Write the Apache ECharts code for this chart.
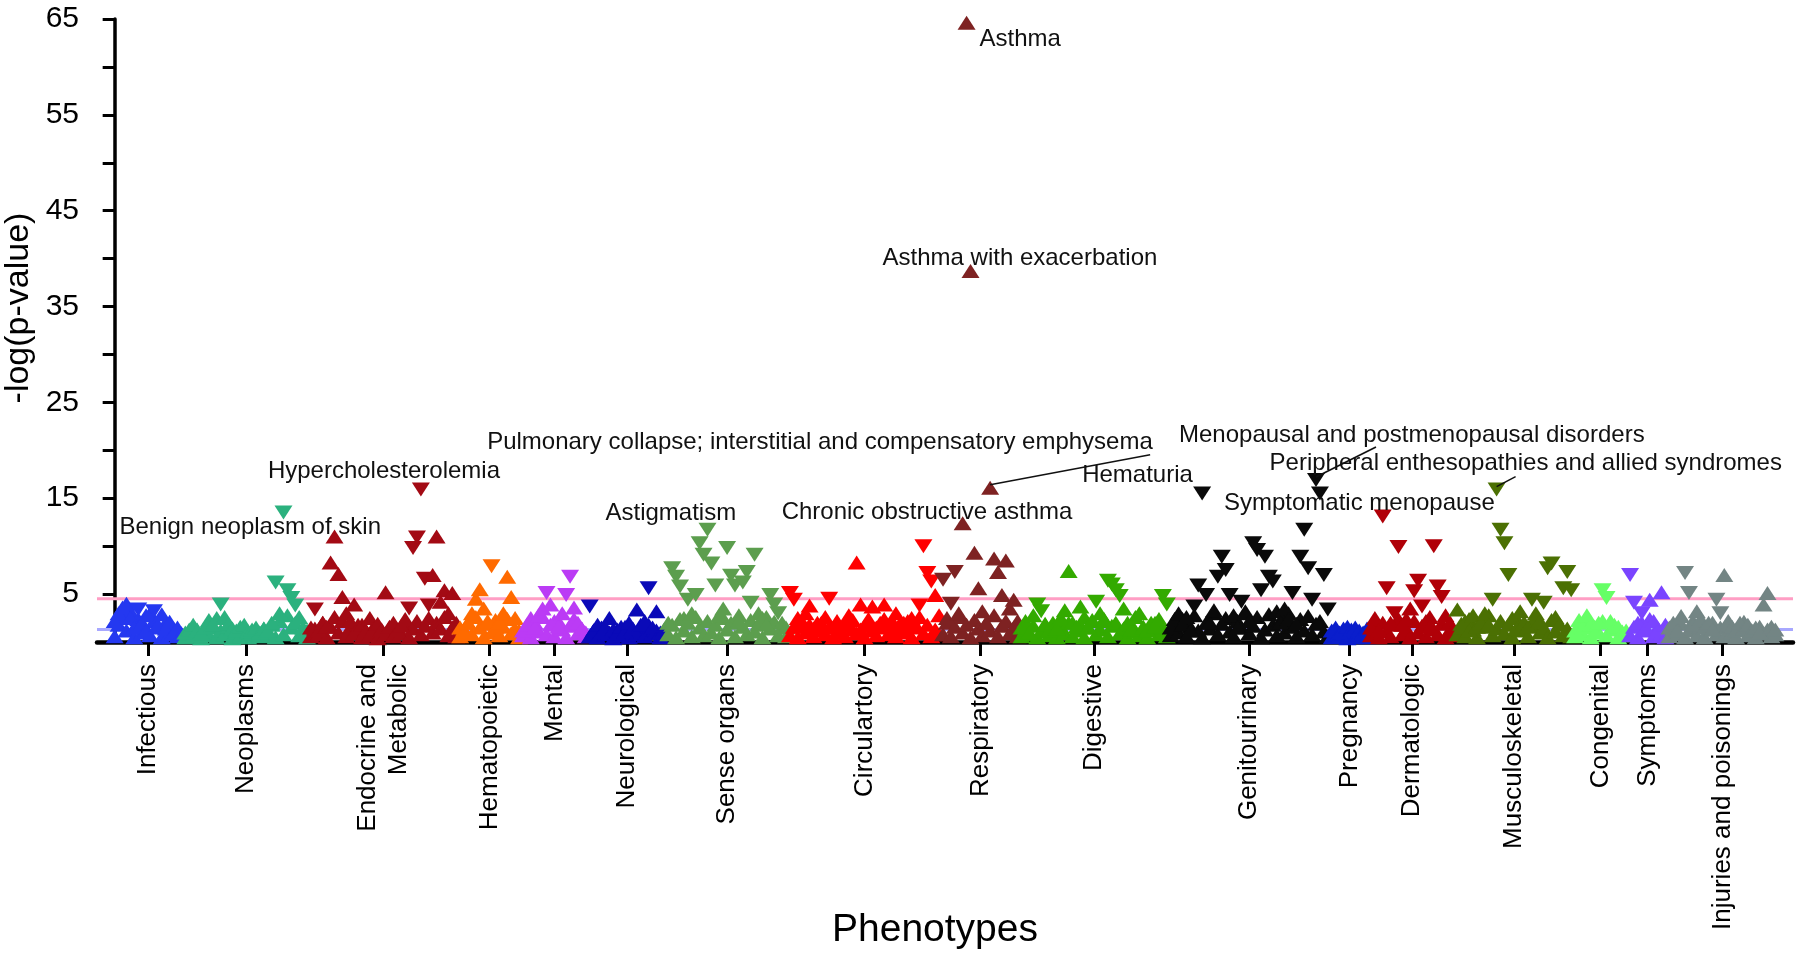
<!DOCTYPE html>
<html>
<head>
<meta charset="utf-8">
<title>PheWAS</title>
<script src="https://cdn.jsdelivr.net/npm/echarts@6/dist/echarts.min.js"></script>
<style>
  html, body { margin: 0; padding: 0; background: #fff; }
  #chart { width: 1800px; height: 956px; }
</style>
</head>
<body>
<div id="chart"></div>
<script>
// -log10(p) per phenotype, in phecode order inside each category.
// sign = direction of effect: positive is drawn as an up triangle, negative as a down triangle
const categories = ['Infectious', 'Neoplasms', 'Endocrine and\nMetabolic', 'Hematopoietic', 'Mental',
  'Neurological', 'Sense organs', 'Circulartory', 'Respiratory', 'Digestive', 'Genitourinary',
  'Pregnancy', 'Dermatologic', 'Musculoskeletal', 'Congenital', 'Symptoms', 'Injuries and poisonings'];

const infectious = [2.2, 3.0, 3.6, 4.0, 2.5, 1.5, -3.4, 2.0, 1.2, 3.0, -3.2, 1.8, 2.9, 1.4, 2.1, 1.0, 1.5, 0.8];
const neoplasms = [1.0, 1.3, 1.8, 1.2, 0.9, 1.5, 2.3, 1.8, 2.5, -3.9, 2.6, 1.9, 1.4, 1.2, 1.6, 1.8, 1.1, 1.3, 1.5, 1.0,
  1.4, 1.2, 2.0, -6.2, 3.0, -13.5, -5.4, -4.6, -3.8, 2.6, 1.5, 1.2];
const endocrine = [1.5, -3.4, 1.2, 2.0, 1.6, 8.3, 11.0, 7.1, 4.7, 3.0, 2.2, 3.9, 1.5, 1.8, 1.2, 2.5, 1.4, 1.9, 1.3, 5.2,
  1.6, 2.0, 1.2, 1.7, 2.4, -3.5, -9.8, -10.9, -15.9, -6.6, -3.8, 7.0, 11.0, 4.2, 5.4, 3.0, 5.1, 2.0];
const hematopoietic = [1.5, 1.0, 2.0, 3.0, 4.5, 5.5, 3.5, 2.2, -7.9, 1.5, 2.0, 3.0, 6.8, 4.7, 2.5, 1.2];
const mental = [1.2, 1.8, 2.5, 1.5, 2.8, 3.5, -5.1, 3.9, 2.2, 1.6, 3.0, -4.9, -6.8, 3.6, 2.0, 1.4, 1.0];
const neurological = [-3.7, 1.2, 1.8, 1.0, 1.5, 2.5, 1.3, 0.9, 1.6, 1.1, 2.0, 1.4, 3.4, 1.8, 2.2, -5.6, 1.5, 3.2, 1.0, 1.3];
const senseOrgans = [2.0, -7.7, -6.8, -5.8, 2.5, -4.4, 3.0, -4.9, -10.3, -9.1, -11.7, -8.2, -5.9, 2.8, 3.5, -9.8,
  -6.9, -5.9, 2.2, -6.2, -7.3, -4.1, -9.1, 3.0, 2.5, 1.8, -4.9, -3.9, -3.0, 2.0, 1.5];
const circulatory = [-5.1, -4.4, 2.5, 1.6, 3.0, 3.8, 1.4, 2.0, 1.2, 2.6, -4.5, 1.5, 2.2, 1.0, 1.8, 2.8, 1.3, 8.3, 3.9, 1.7,
  2.4, 3.7, 1.5, 2.0, 3.9, 1.6, 2.2, 3.0, 1.4, 2.0, 1.1, 2.5, 1.8, -3.8, -10.0, -7.2, -6.3, 4.9, 2.8];
const respiratory = [-6.5, 2.5, -4.0, -7.3, 3.0, 12.4, 64.6, 38.7, 9.3, 5.6, 3.2, 2.0, 16.1, 8.7, 7.3, 4.9, 8.5, 3.5, 4.4, 2.2];
const digestive = [1.5, 2.2, 1.0, 2.8, -3.9, -3.2, 1.8, 1.2, 2.0, 1.4, 2.5, 3.3, 7.4, 2.0, 1.6, 3.7, 2.6, 1.5, 2.3, -4.2,
  3.0, 2.2, -6.4, -6.0, -5.4, -4.8, 3.5, 2.0, 1.3, 2.6, 3.0, 1.5, 1.2, 2.0, 1.6, 2.4, -4.8, -3.9];
const genitourinary = [1.5, 2.4, 3.0, 1.8, 2.6, 1.2, -3.7, -5.9, -15.5, -4.9, 2.0, 3.3, -6.8, -8.9, -7.5, -4.9, 2.8, 1.5,
  -4.2, 3.0, 2.2, -10.3, -9.6, -5.4, -8.9, -6.8, -6.3, 3.2, 2.0, 3.5, 2.4, -5.1, 1.9, -8.9, -11.7, -7.7, -4.4, -16.9,
  -15.5, -7.0, -3.4];
const pregnancy = [1.2, 1.5, 1.0, 1.4, 1.6, 1.3, 1.5, 1.2, 1.0, 1.4];
const dermatologic = [1.5, 2.5, 1.2, -13.1, -5.6, 2.0, -3.0, -9.9, 1.8, 2.4, 3.5, -5.3, -6.4, -3.7, 2.2, 1.6, -10.0,
  -5.8, -4.7, 2.8, 2.0, 1.4];
const musculoskeletal = [3.4, 1.5, 2.2, 1.2, 2.8, 1.6, 2.0, 3.0, 1.8, -4.4, -15.9, -11.7, -10.3, -7.0, 2.5, 1.4, 3.2,
  2.0, 1.6, -4.4, 3.0, 2.2, -4.1, -7.7, -8.2, 2.6, 1.8, -5.6, -7.3, -5.4];
const congenital = [1.2, 2.3, 1.5, 2.8, 1.8, 1.0, 2.0, -5.4, -4.6, 2.2, 1.4, 1.6, 1.0, 1.2];
const symptoms = [-7.0, -4.1, 2.0, -3.0, 1.5, 4.4, 2.2, 1.2, 5.2, 1.8];
const injuries = [1.5, 2.0, 1.2, 2.7, -7.2, -5.1, 1.8, 3.2, 2.4, 1.5, 2.0, 1.3, -4.4, -3.0, 7.0, 2.2, 1.6, 1.2, 2.0, 1.4,
  1.8, 1.2, 1.5, 1.0, 3.9, 5.1, 1.6, 1.3];

// non-significant phenotypes hidden in the dense band along the bottom
const infectiousLow = [0.6, 1.8, 2.6, 1.2, 3.2, 0.5, 2.4, 1.0, 2.8, 0.7, 2.2, 1.5, 0.5, 2.0, 0.8, 1.4, 0.6, 0.9];
const neoplasmsLow = [0.5, 0.9, 0.6, 1.3, 0.4, 1.1, 0.7, 1.5, 0.5, 1.2, 0.8, 1.6, 0.4, 1.0, 0.6, 1.3, 0.5, 0.9, 1.2, 0.6,
  1.4, 0.7, 1.8, 0.5, 2.2, 0.8, 2.8, 1.5, 2.0, 0.7, 1.1, 0.5];
const endocrineLow = [0.6, 1.4, 0.8, 2.0, 0.5, 1.6, 2.6, 1.0, 2.2, 0.6, 1.5, 0.9, 1.8, 0.5, 1.2, 0.7, 1.6, 0.4, 1.1, 0.8,
  1.5, 0.6, 1.3, 0.9, 1.9, 0.5, 1.4, 2.2, 0.8, 1.7, 2.5, 1.0, 2.0, 1.4, 2.6, 0.7, 1.5, 0.6];
const hematopoieticLow = [0.6, 1.3, 2.0, 0.8, 2.6, 1.5, 0.5, 1.9, 1.0, 2.3, 0.7, 1.6, 2.4, 0.9, 1.4, 0.5];
const mentalLow = [0.7, 1.5, 0.5, 2.0, 1.1, 2.6, 0.8, 1.8, 0.6, 2.2, 1.3, 0.5, 1.7, 2.4, 0.9, 1.4, 0.6];
const neurologicalLow = [0.6, 1.2, 0.5, 1.5, 0.8, 1.0, 0.4, 1.3, 0.7, 1.6, 0.5, 1.1, 0.8, 1.4, 0.6, 1.8, 0.9, 1.2, 0.5, 0.8];
const senseOrgansLow = [0.8, 1.8, 0.5, 2.4, 1.2, 2.0, 0.6, 2.6, 1.5, 0.7, 2.2, 1.0, 1.8, 0.5, 2.5, 1.3, 2.0, 0.6, 2.8,
  1.6, 0.8, 2.3, 1.1, 1.9, 0.5, 2.6, 1.4, 2.1, 0.7, 1.5, 0.6];
const circulatoryLow = [0.7, 1.6, 0.5, 2.2, 1.0, 1.8, 0.6, 1.4, 2.0, 0.8, 1.5, 0.5, 1.9, 1.1, 0.6, 1.7, 2.3, 0.9, 1.3,
  0.5, 2.0, 1.2, 0.7, 1.6, 2.4, 0.8, 1.4, 0.6, 1.9, 1.0, 2.2, 0.5, 1.5, 2.6, 0.9, 1.8, 0.6, 1.3, 0.8];
const respiratoryLow = [0.8, 2.0, 0.6, 1.6, 2.6, 1.0, 1.8, 0.5, 2.3, 1.4, 0.7, 2.0, 1.2, 2.8, 0.6, 1.7, 2.2, 0.9, 1.5, 0.6];
const digestiveLow = [0.6, 1.3, 0.8, 1.7, 0.5, 1.1, 1.9, 0.7, 1.4, 0.5, 1.6, 0.9, 2.0, 0.6, 1.2, 1.8, 0.5, 1.5, 2.2,
  0.8, 1.3, 2.4, 0.6, 1.7, 2.0, 0.9, 1.4, 0.5, 1.8, 1.1, 0.7, 1.6, 0.5, 1.3, 2.0, 0.8, 1.5, 0.6];
const genitourinaryLow = [0.7, 1.8, 1.0, 2.4, 0.6, 1.6, 2.8, 1.2, 0.5, 2.0, 1.4, 3.0, 0.8, 1.9, 2.5, 1.1, 0.6, 2.2, 1.5,
  3.2, 0.9, 1.7, 2.6, 0.5, 1.3, 2.9, 1.8, 0.7, 2.3, 1.0, 3.0, 1.6, 0.6, 2.4, 1.2, 2.7, 0.8, 1.9, 2.2, 1.1, 0.6];
const pregnancyLow = [0.5, 0.8, 0.6, 0.9, 0.4, 0.7, 0.5, 0.8, 0.6, 0.5];
const dermatologicLow = [0.7, 1.5, 0.5, 2.0, 1.1, 0.6, 1.8, 2.4, 0.8, 1.4, 0.5, 2.2, 1.0, 1.7, 0.6, 2.6, 1.3, 0.8, 1.9,
  0.5, 1.2, 0.7];
const musculoskeletalLow = [0.8, 1.9, 0.6, 2.4, 1.3, 0.5, 2.1, 1.6, 2.8, 0.7, 1.4, 2.2, 0.9, 1.8, 0.5, 2.5, 1.2, 2.0,
  0.6, 1.7, 2.6, 1.0, 1.5, 0.5, 2.3, 1.1, 1.9, 0.7, 1.4, 0.6];
const congenitalLow = [0.6, 1.4, 0.8, 1.9, 0.5, 1.6, 1.0, 2.2, 0.7, 1.3, 1.8, 0.5, 1.1, 0.7];
const symptomsLow = [0.7, 1.6, 0.5, 2.0, 1.2, 2.4, 0.6, 1.5, 0.9, 0.5];
const injuriesLow = [0.6, 1.4, 0.8, 1.9, 0.5, 1.2, 2.2, 0.7, 1.6, 0.5, 1.3, 2.0, 0.8, 1.5, 0.6, 1.8, 1.0, 0.5, 1.4, 2.1,
  0.7, 1.2, 0.5, 1.6, 0.9, 1.3, 0.6, 0.8];

const categoryValues = [infectious, neoplasms, endocrine, hematopoietic, mental, neurological, senseOrgans,
  circulatory, respiratory, digestive, genitourinary, pregnancy, dermatologic, musculoskeletal, congenital,
  symptoms, injuries];
const categoryLowValues = [infectiousLow, neoplasmsLow, endocrineLow, hematopoieticLow, mentalLow, neurologicalLow,
  senseOrgansLow, circulatoryLow, respiratoryLow, digestiveLow, genitourinaryLow, pregnancyLow, dermatologicLow,
  musculoskeletalLow, congenitalLow, symptomsLow, injuriesLow];

const nominalLine = 1.3;     // p = 0.05
const bonferroniLine = 4.5;  // corrected threshold

// labelled phenotypes: text, category, index inside that category
const annotationTexts = ['Asthma', 'Asthma with exacerbation', 'Chronic obstructive asthma',
  'Pulmonary collapse; interstitial and compensatory emphysema', 'Hypercholesterolemia', 'Benign neoplasm of skin',
  'Astigmatism', 'Hematuria', 'Menopausal and postmenopausal disorders', 'Symptomatic menopause',
  'Peripheral enthesopathies and allied syndromes'];
const annotationCategory = [8, 8, 8, 8, 2, 1, 6, 10, 10, 10, 13];
const annotationIndex = [6, 7, 5, 12, 28, 25, 10, 8, 37, 38, 10];

// ---- styling ----
const colors = ['#2438f0', '#2bb17e', '#a30a14', '#ff6a00', '#bb3bf5', '#0a0ab8', '#5c9e4e', '#ff0000', '#7e2222',
  '#33aa00', '#0a0a0a', '#0a1ecc', '#b00008', '#4b7003', '#66ff66', '#7a44ff', '#738584'];
const UP = 'path://M0,12L7,0L14,12Z';
const DOWN = 'path://M0,0L14,0L7,12Z';
const FONT = '"Liberation Sans", Arial, Helvetica, sans-serif';
// text left/middle offset from the point, and optional leader line end
const labelOffsets = [[13, 17], [-88, -13], [-181, -11], [-503, -45], [-153, -18], [-164, 15], [-102, -16],
  [-120, -18], [-137, -45], [-96, 10], [-227, -26]];
const leaderEnds = [null, null, null, [160, -33], null, null, null, null, [60, -33], null, [19, -13]];

const starts = [];
const tickValues = [];
let pos = 0;
categoryValues.forEach(arr => {
  starts.push(pos);
  tickValues.push(pos + (arr.length - 1) / 2);
  pos += arr.length;
});
const total = pos;
const xMin = -4.5;
const xMax = total - 1 + 4.5;

// threshold lines, behind the points
const series = [
  {
    type: 'line', z: 1, silent: true, symbol: 'none', animation: false,
    data: [[xMin, bonferroniLine], [xMax, bonferroniLine]],
    lineStyle: { color: '#ff9ec4', width: 3 }
  },
  {
    type: 'line', z: 1, silent: true, symbol: 'none', animation: false,
    data: [[xMin, nominalLine], [xMax, nominalLine]],
    lineStyle: { color: '#a8a8ff', width: 3 }
  }
];

categoryValues.forEach((arr, c) => {
  const low = categoryLowValues[c];
  const data = [];
  low.forEach((v, j) => {
    const x = starts[c] + (j + 0.5) * arr.length / low.length - 0.5;
    data.push({ value: [x, Math.abs(v)], symbol: v < 0 ? DOWN : UP });
  });
  arr.forEach((v, i) => {
    data.push({ value: [starts[c] + i, Math.abs(v)], symbol: v < 0 ? DOWN : UP });
  });
  series.push({
    type: 'scatter',
    name: categories[c],
    data: data,
    symbolSize: [18, 14],
    itemStyle: { color: colors[c], opacity: 1 },
    z: 2,
    animation: false
  });
});

const chart = echarts.init(document.getElementById('chart'));
const option = {
  backgroundColor: '#fff',
  animation: false,
  grid: { left: 97, right: 7, top: 19, bottom: 314 },
  xAxis: {
    type: 'value',
    min: xMin,
    max: xMax,
    splitLine: { show: false },
    axisLine: { show: true, onZero: false, lineStyle: { color: '#000', width: 4.5 } },
    axisTick: { show: true, customValues: tickValues, length: 14, lineStyle: { color: '#000', width: 3 } },
    axisLabel: {
      show: true,
      customValues: tickValues,
      rotate: 90,
      margin: 22,
      fontSize: 26,
      lineHeight: 31,
      color: '#000',
      fontFamily: FONT,
      formatter: function (v) {
        const i = tickValues.findIndex(t => Math.abs(t - v) < 1e-6);
        return i >= 0 ? categories[i] : '';
      }
    }
  },
  yAxis: {
    type: 'value',
    min: 0,
    max: 65,
    interval: 5,
    splitLine: { show: false },
    axisLine: { show: true, lineStyle: { color: '#000', width: 3.5 } },
    axisTick: { show: true, length: 12, lineStyle: { color: '#000', width: 3 } },
    axisLabel: {
      fontSize: 30,
      margin: 18,
      color: '#000',
      fontFamily: FONT,
      formatter: function (v) { return v % 10 === 5 ? String(v) : ''; }
    }
  },
  series: series
};
chart.setOption(option);

const graphics = [
  {
    type: 'text', x: 19, y: 308, rotation: Math.PI / 2,
    style: { text: '-log(p-value)', font: '34px ' + FONT, fill: '#000',
      textAlign: 'center', textVerticalAlign: 'middle', align: 'center', verticalAlign: 'middle' }
  },
  {
    type: 'text', x: 935, y: 930,
    style: { text: 'Phenotypes', font: '39px ' + FONT, fill: '#000',
      textAlign: 'center', textVerticalAlign: 'middle', align: 'center', verticalAlign: 'middle' }
  }
];
annotationTexts.forEach((t, k) => {
  const c = annotationCategory[k];
  const i = annotationIndex[k];
  const v = categoryValues[c][i];
  const p = chart.convertToPixel({ gridIndex: 0 }, [starts[c] + i, Math.abs(v)]);
  const off = labelOffsets[k];
  graphics.push({
    type: 'text', x: p[0] + off[0], y: p[1] + off[1], z: 10,
    style: { text: t, font: '24px ' + FONT, fill: '#111',
      textAlign: 'left', textVerticalAlign: 'middle', align: 'left', verticalAlign: 'middle' }
  });
  const e = leaderEnds[k];
  if (e) {
    graphics.push({
      type: 'line', z: 10,
      shape: { x1: p[0], y1: p[1] - 3, x2: p[0] + e[0], y2: p[1] + e[1] },
      style: { stroke: '#111', lineWidth: 1.6 }
    });
  }
});
chart.setOption({ graphic: graphics });
</script>
</body>
</html>
